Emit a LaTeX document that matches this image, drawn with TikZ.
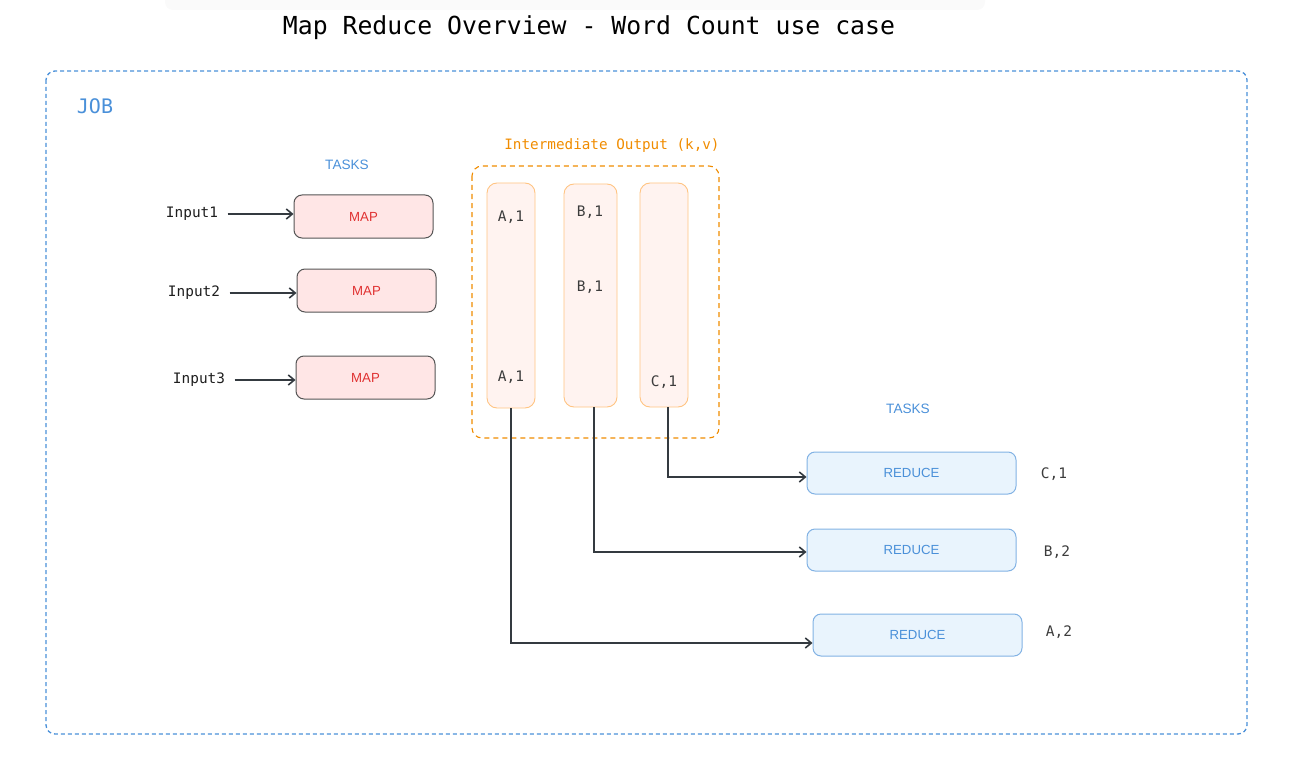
\documentclass[tikz,border=0pt]{standalone}
\usepackage{fontspec}
\usetikzlibrary{arrows.meta}
\newfontfamily\monofont{DejaVu Sans Mono}
\newfontfamily\labelfont{Liberation Sans}

\definecolor{jobblue}{RGB}{74,144,217}
\definecolor{mapline}{RGB}{85,85,85}
\definecolor{mapfill}{RGB}{255,230,230}
\definecolor{mapred}{RGB}{224,49,49}
\definecolor{kvorange}{RGB}{240,140,0}
\definecolor{kvline}{RGB}{255,196,130}
\definecolor{kvfill}{RGB}{255,243,240}
\definecolor{redline}{RGB}{130,178,228}
\definecolor{redfill}{RGB}{233,244,253}
\definecolor{inktext}{RGB}{30,30,30}
\definecolor{kvtext}{RGB}{60,60,60}
\definecolor{flowgray}{RGB}{52,58,64}

\tikzstyle{maptask}=[draw=mapline,line width=1pt,fill=mapfill,rounded corners=8pt,minimum width=139pt,minimum height=43pt,text=mapred,font=\labelfont\fontsize{13.2}{15}\selectfont]
\tikzstyle{reducetask}=[draw=redline,line width=1pt,fill=redfill,rounded corners=8pt,minimum width=209pt,minimum height=42pt,text=jobblue,font=\labelfont\fontsize{13.2}{15}\selectfont]
\tikzstyle{kvcol}=[draw=kvline,fill=kvfill,rounded corners=10pt,inner sep=0pt,line width=0.9pt]
\tikzstyle{kv}=[text=kvtext,font=\monofont\fontsize{14.5}{16}\selectfont]
\tikzstyle{tasklabel}=[text=jobblue,font=\labelfont\fontsize{13.6}{15}\selectfont]
\tikzstyle{flow}=[->,line width=1.6pt,draw=flowgray]

\begin{document}
\begin{tikzpicture}[x=1pt,y=-1pt,>={Straight Barb[length=6pt,width=10pt]}]
	\useasboundingbox (0,0) rectangle (1292,762);
	\fill[black!2,rounded corners=8pt] (165,-10) rectangle (985,10);

	% title and job frame
	\node (title) at (589,28) {\monofont\fontsize{24.8}{30}\selectfont Map Reduce Overview - Word Count use case};
	\draw[jobblue,line width=1.3pt,dash pattern=on 4pt off 3pt,rounded corners=9pt] (46,71) rectangle (1247,734);
	\node[text=jobblue,font=\monofont\fontsize{20}{22}\selectfont] (job) at (95,106) {JOB};

	% map tasks
	\node[tasklabel] (maptasks) at (347,165) {TASKS};
	\foreach \nr/\ix/\iy/\mx/\my in {1/192/214/363.5/216.5, 2/194/293/366.5/290.5, 3/199/380/365.5/377.5}{
		\node[text=inktext,font=\monofont\fontsize{14.4}{16}\selectfont] (I\nr) at (\ix,\iy) {Input\nr};
		\node (M\nr)[maptask] at (\mx,\my) {MAP};

		\draw[flow,shorten <=6pt] (I\nr) -- (M\nr.west |- I\nr);
	}

	% intermediate output
	\node[text=kvorange,font=\monofont\fontsize{14.3}{16}\selectfont] (inter) at (612,146) {Intermediate Output (k,v)};
	\draw[kvorange,line width=1.1pt,dash pattern=on 5pt off 4pt,rounded corners=10pt] (472,166) rectangle (719,438);
	\node (K1)[kvcol,minimum width=48pt,minimum height=225pt] at (511,295.5) {};
	\node (K2)[kvcol,minimum width=53pt,minimum height=223pt] at (590.5,295.5) {};
	\node (K3)[kvcol,minimum width=48pt,minimum height=224pt] at (664,295) {};
	\node[kv] (a1) at (511,217) {A,1};
	\node[kv] (a2) at (511,377) {A,1};
	\node[kv] (b1) at (590,212) {B,1};
	\node[kv] (b2) at (590,287) {B,1};
	\node[kv] (c1) at (664,382) {C,1};

	% reduce tasks
	\node[tasklabel] (redtasks) at (908,409) {TASKS};
	\node (R1)[reducetask] at (911.5,473) {REDUCE};
	\node (R2)[reducetask] at (911.5,550) {REDUCE};
	\node (R3)[reducetask] at (917.5,635) {REDUCE};
	\node[kv] (rc) at (1054,474) {C,1};
	\node[kv] (rb) at (1057,552) {B,2};
	\node[kv] (ra) at (1059,632) {A,2};

	\draw[flow] ([xshift=4pt]K3.south) |- ([yshift=-4pt]R1.west);
	\draw[flow] ([xshift=3.5pt]K2.south) |- ([yshift=-2pt]R2.west);
	\draw[flow] (K1.south) |- ([yshift=-8pt]R3.west);
\end{tikzpicture}
\end{document}
